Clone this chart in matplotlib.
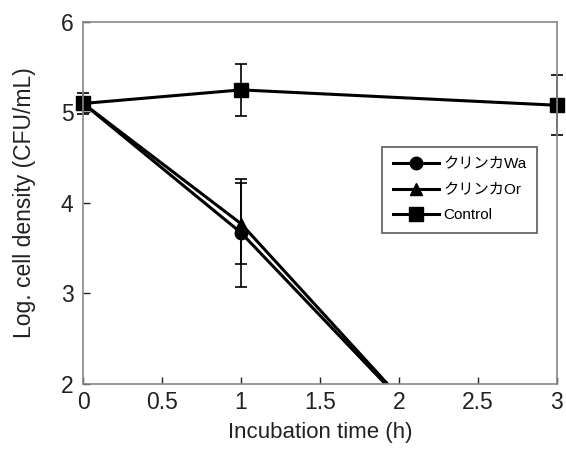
import matplotlib
matplotlib.use("Agg")
from matplotlib import pyplot as plt

plt.rcParams['font.family'] = ['Liberation Sans', 'Noto Sans CJK JP', 'DejaVu Sans']

# data
wa_x = [0, 1, 2]
wa_y = [5.1, 3.67, 1.84]
wa_err = [0.0, 0.6, 0.0]
or_x = [0, 1, 2]
or_y = [5.1, 3.77, 1.86]
or_err = [0.0, 0.45, 0.0]
ctrl_x = [0, 1, 3]
ctrl_y = [5.1, 5.25, 5.08]
ctrl_err = [0.12, 0.29, 0.33]
labels = ['クリンカWa', 'クリンカOr', 'Control']
x_ticks = [0, 0.5, 1, 1.5, 2, 2.5, 3]
x_tick_labels = ['0', '0.5', '1', '1.5', '2', '2.5', '3']
y_ticks = [2, 3, 4, 5, 6]

fig = plt.figure(figsize=(5.66, 4.5), dpi=100)
ax = fig.add_axes([0.147, 0.147, 0.837, 0.804])

common = dict(color='black', ecolor='black', elinewidth=1.2, capsize=4, capthick=1.2, lw=2.2)
c1 = ax.errorbar(wa_x, wa_y, yerr=wa_err, marker='o', ms=9, label=labels[0], **common)
c2 = ax.errorbar(or_x, or_y, yerr=or_err, marker='^', ms=9, label=labels[1], **common)
c3 = ax.errorbar(ctrl_x, ctrl_y, yerr=ctrl_err, marker='s', ms=10, label=labels[2],
                 clip_on=False, **common)

ax.set_xlim(0, 3)
ax.set_ylim(2, 6)
ax.set_xticks(x_ticks)
ax.set_xticklabels(x_tick_labels)
ax.set_yticks(y_ticks)
ax.tick_params(direction='in', length=5, width=1, labelsize=16.5, colors='#222222')
ax.tick_params(axis='x', pad=5)
ax.tick_params(axis='y', pad=7)
for s in ax.spines.values():
    s.set_color('#888888')
    s.set_linewidth(1.2)

ax.set_xlabel('Incubation time (h)', fontsize=16, color='#222222', labelpad=6)
ax.set_ylabel('Log. cell density (CFU/mL)', fontsize=16.5, color='#222222', labelpad=18)

handles = [c1.lines[0], c2.lines[0], c3.lines[0]]
leg = ax.legend(handles, labels, loc='upper right', bbox_to_anchor=(0.958, 0.655), fontsize=11,
                frameon=True, fancybox=False, edgecolor='#333333', handlelength=3.0,
                borderpad=0.7, labelspacing=0.75, handletextpad=0.3, borderaxespad=0)
leg.get_frame().set_linewidth(1.2)

fig.savefig('out.png', dpi=100)
